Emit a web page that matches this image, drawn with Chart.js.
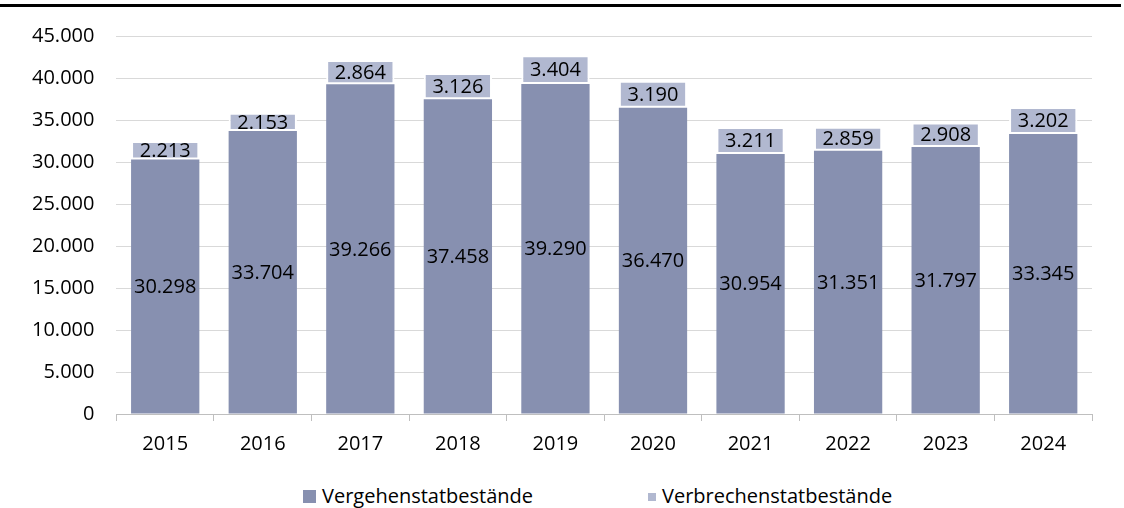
<!DOCTYPE html>
<html lang="de">
<head>
<meta charset="utf-8">
<title>Vergehen und Verbrechen 2015-2024</title>
<script src="https://cdn.jsdelivr.net/npm/chart.js@4.4.1/dist/chart.umd.min.js"></script>
<style>
  body { margin: 0; background: #fff; font-family: "Open Sans", "Noto Sans", sans-serif; }
  #wrap { position: relative; width: 1124px; height: 508px; }
  #topline { position: absolute; left: 0; top: 4px; width: 1121px; height: 3px; background: #000; }
  #myChart { position: absolute; left: 0; top: 0; }
  .leg { position: absolute; top: 482px; font-size: 20px; line-height: 27px; color: #000; white-space: nowrap; }
  .leg i { display: inline-block; vertical-align: middle; margin-right: 6px; position: relative; top: -1px; }
</style>
</head>
<body>
<div id="wrap">
  <div id="topline"></div>
  <canvas id="myChart" width="1124" height="479"></canvas>
  <div id="legend"></div>
</div>
<script>
const years = ['2015', '2016', '2017', '2018', '2019', '2020', '2021', '2022', '2023', '2024'];
const vergehen = [30298, 33704, 39266, 37458, 39290, 36470, 30954, 31351, 31797, 33345];
const verbrechen = [2213, 2153, 2864, 3126, 3404, 3190, 3211, 2859, 2908, 3202];
const yTicks = [0, 5000, 10000, 15000, 20000, 25000, 30000, 35000, 40000, 45000];

const fontFamily = '"Open Sans", "Noto Sans", sans-serif';

// Zahlen mit Tausenderpunkt
function fmt(n) {
    return String(n).replace(/\B(?=(\d{3})+(?!\d))/g, '.');
}

// eigene Datenbeschriftung in der Mitte jedes Segments
const valueLabels = {
    id: 'valueLabels',
    afterDatasetsDraw(chart) {
        const ctx = chart.ctx;
        ctx.save();
        ctx.font = '20px ' + fontFamily;
        ctx.fillStyle = '#000';
        ctx.textAlign = 'center';
        ctx.textBaseline = 'middle';
        chart.data.datasets.forEach((ds, i) => {
            chart.getDatasetMeta(i).data.forEach((bar, j) => {
                const mid = (bar.y + bar.base) / 2;
                ctx.fillText(fmt(ds.data[j]), bar.x, mid + 1);
            });
        });
        ctx.restore();
    }
};

const ctx = document.getElementById('myChart').getContext('2d');
const chart = new Chart(ctx, {
    type: 'bar',
    data: {
        labels: years,
        datasets: [{
            label: 'Vergehenstatbestände',
            data: vergehen,
            backgroundColor: '#8790b0',
            borderWidth: 0,
            categoryPercentage: 1,
            barPercentage: 0.7
        }, {
            label: 'Verbrechenstatbestände',
            data: verbrechen,
            backgroundColor: '#b1b8d0',
            borderColor: '#ffffff',
            borderWidth: 2,
            borderSkipped: false,
            categoryPercentage: 1,
            barPercentage: 0.7
        }]
    },
    options: {
        responsive: false,
        animation: false,
        layout: { padding: { top: 36, left: 10, right: 32, bottom: 12 } },
        scales: {
            x: {
                stacked: true,
                grid: { drawOnChartArea: false, drawTicks: true, tickLength: 7, color: '#bfbfbf' },
                border: { color: '#bfbfbf' },
                ticks: { color: '#000', padding: 11, font: { family: fontFamily, size: 20 } }
            },
            y: {
                stacked: true,
                min: 0,
                max: 45000,
                afterBuildTicks: axis => { axis.ticks = yTicks.map(v => ({ value: v })); },
                grid: { color: '#d9d9d9', drawTicks: false },
                border: { display: false },
                ticks: {
                    color: '#000',
                    padding: 22,
                    font: { family: fontFamily, size: 20 },
                    callback: v => fmt(v)
                }
            }
        },
        plugins: {
            tooltip: { enabled: false },
            legend: { display: false }
        }
    },
    plugins: [valueLabels]
});

// Legende als HTML unter dem Diagramm
const legendDiv = document.getElementById('legend');
const legendPos = [303, 648];
const boxSize = [13, 8];
chart.data.datasets.forEach((ds, i) => {
    const item = document.createElement('div');
    item.className = 'leg';
    item.style.left = legendPos[i] + 'px';
    item.innerHTML = `<i style="width:${boxSize[i]}px;height:${boxSize[i]}px;background:${ds.backgroundColor}"></i>${ds.label}`;
    legendDiv.appendChild(item);
});
</script>
</body>
</html>
